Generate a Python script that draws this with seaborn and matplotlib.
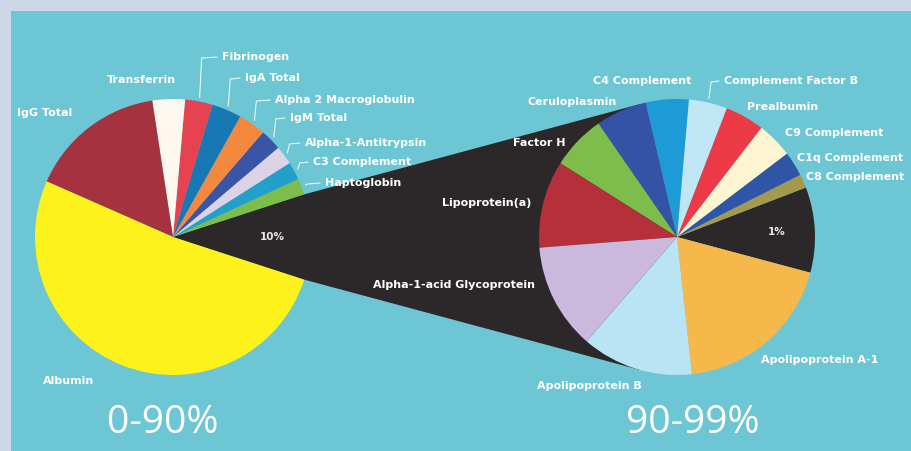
import numpy as np
import matplotlib
matplotlib.use("Agg")
import matplotlib.pyplot as plt
from matplotlib.patches import Polygon, Rectangle
import seaborn as sns

# Plasma proteins, share of total protein (%)
main_labels = ["Remaining proteins", "Haptoglobin", "C3 Complement", "Alpha-1-Antitrypsin",
               "IgM Total", "Alpha 2 Macroglobulin", "IgA Total", "Fibrinogen",
               "Transferrin", "IgG Total", "Albumin"]
main_values = [10.0, 1.9, 2.1, 2.2, 2.5, 3.2, 3.5, 3.2, 3.8, 16.0, 51.6]
main_colors = ["#2c2829", "#7cbd4c", "#22a0c9", "#dcd3e6", "#3b55a6", "#f5883f",
               "#1878b3", "#e6424f", "#fdf8ef", "#a7323f", "#fef21c"]

# Breakdown of the remaining 10 % (values in % of total protein)
sub_labels = ["Remaining proteins", "C8 Complement", "C1q Complement", "C9 Complement",
              "Prealbumin", "Complement Factor B", "C4 Complement", "Ceruloplasmin",
              "Factor H", "Lipoprotein(a)", "Alpha-1-acid Glycoprotein",
              "Apolipoprotein B", "Apolipoprotein A-1"]
sub_values = [1.0, 0.16, 0.29, 0.42, 0.46, 0.45, 0.50, 0.60, 0.64, 1.02, 1.24, 1.31, 1.91]
sub_colors = ["#2c2829", "#a4994c", "#2f55a6", "#fdf4d2", "#ec3b46", "#c0e6f5",
              "#1d9bd6", "#3553a6", "#7dbd4b", "#b5303b", "#cbb8dd", "#b8e4f4", "#f7b84b"]

range_titles = ["0-90%", "90-99%"]

sns.set_theme(style="white")
plt.rcParams["font.family"] = ["DejaVu Sans"]

W, H = 911, 451
fig = plt.figure(figsize=(W / 100, H / 100), dpi=100, facecolor="#cdd7e8")
ax = fig.add_axes([0, 0, 1, 1])


def Y(y):
    """Layout helper: distance from the top edge -> axes y."""
    return H - y


# teal panel
ax.add_patch(Rectangle((11, 0), W - 11, H - 11, facecolor="#6cc6d3", edgecolor="none", zorder=0))

R = 138
c_main = np.array([173.0, Y(237)])
c_sub = np.array([677.0, Y(237)])
main_start = -18
sub_start = -15

w_main, _ = ax.pie(main_values, colors=main_colors, startangle=main_start,
                   counterclock=True, radius=R, center=tuple(c_main),
                   wedgeprops=dict(linewidth=0), frame=True)
w_sub, _ = ax.pie(sub_values, colors=sub_colors, startangle=sub_start,
                  counterclock=True, radius=R, center=tuple(c_sub),
                  wedgeprops=dict(linewidth=0), frame=True)
for w in w_main + w_sub:
    w.set_zorder(2)

# black band joining the "remaining" wedge to the breakdown pie
d = c_sub - c_main
dist = np.hypot(*d)
base = np.arctan2(d[1], d[0])
half = np.arcsin(R / dist)
tlen = np.sqrt(dist ** 2 - R ** 2)
p_up = c_main + tlen * np.array([np.cos(base + half), np.sin(base + half)])
p_dn = c_main + tlen * np.array([np.cos(base - half), np.sin(base - half)])
t1, t2 = np.deg2rad(w_main[0].theta1), np.deg2rad(w_main[0].theta2)
rim_dn = c_main + R * np.array([np.cos(t1), np.sin(t1)])
rim_up = c_main + R * np.array([np.cos(t2), np.sin(t2)])
ax.add_patch(Polygon([c_main, rim_up, p_up, c_sub, p_dn, rim_dn], closed=True,
                     facecolor=main_colors[0], edgecolor="none", zorder=1))

ax.set_xlim(0, W)
ax.set_ylim(0, H)
ax.set_aspect("equal")
ax.axis("off")

txt = dict(color="white", fontsize=8, fontweight="bold", va="center", ha="left", zorder=5)

# percentage inside the black wedges
for wedges, values, c in ((w_main, main_values, c_main), (w_sub, sub_values, c_sub)):
    w = wedges[0]
    mid = np.deg2rad((w.theta1 + w.theta2) / 2)
    pos = c + 0.72 * R * np.array([np.cos(mid), np.sin(mid)])
    ax.text(pos[0], pos[1], f"{values[0]:.0f}%", color="#e8e8e8", fontsize=7.5,
            fontweight="bold", ha="center", va="center", zorder=5)

main_pos = {
    "IgG Total": (17, 113), "Transferrin": (107, 80), "Fibrinogen": (222, 57),
    "IgA Total": (245, 78), "Alpha 2 Macroglobulin": (275, 100), "IgM Total": (290, 118),
    "Alpha-1-Antitrypsin": (305, 143), "C3 Complement": (313, 162),
    "Haptoglobin": (325, 183), "Albumin": (43, 381),
}
main_leader = {"Fibrinogen", "IgA Total", "Alpha 2 Macroglobulin", "IgM Total",
               "Alpha-1-Antitrypsin", "C3 Complement", "Haptoglobin"}

sub_pos = {
    "C4 Complement": (593, 81), "Complement Factor B": (724, 81),
    "Ceruloplasmin": (527, 102), "Prealbumin": (747, 107), "C9 Complement": (785, 133),
    "C1q Complement": (797, 158), "C8 Complement": (806, 177), "Factor H": (513, 143),
    "Lipoprotein(a)": (442, 203), "Alpha-1-acid Glycoprotein": (373, 285),
    "Apolipoprotein B": (537, 386), "Apolipoprotein A-1": (761, 360),
}
sub_leader = {"Complement Factor B"}


def place_labels(labels, wedges, centre, positions, leaders):
    for lab, w in zip(labels, wedges):
        if lab not in positions:
            continue
        x, y = positions[lab]
        ax.text(x, Y(y), lab, **txt)
        if lab in leaders:
            mid = np.deg2rad((w.theta1 + w.theta2) / 2)
            p = centre + 1.03 * R * np.array([np.cos(mid), np.sin(mid)])
            ty = Y(y)
            xs = [p[0], p[0] + 2, x - 5]
            ys = [p[1], ty - 1, ty]
            ax.plot(xs, ys, color="white", lw=0.8, alpha=0.85, zorder=4,
                    solid_capstyle="round")


place_labels(main_labels, w_main, c_main, main_pos, main_leader)
place_labels(sub_labels, w_sub, c_sub, sub_pos, sub_leader)

ax.text(163, Y(423), range_titles[0], color="white", fontsize=28, family="Open Sans",
        ha="center", va="center", zorder=5)
ax.text(693, Y(423), range_titles[1], color="white", fontsize=28, family="Open Sans",
        ha="center", va="center", zorder=5)

fig.savefig("out.png", dpi=100, facecolor=fig.get_facecolor())
